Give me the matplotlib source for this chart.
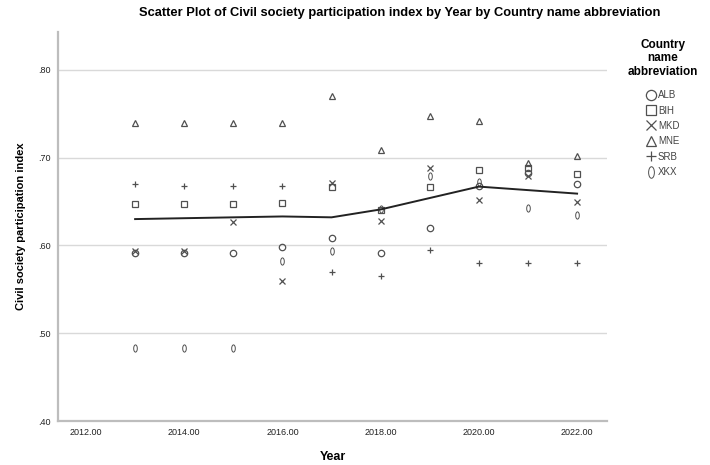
import matplotlib
matplotlib.use("Agg")
import matplotlib.pyplot as plt
from matplotlib.path import Path
from matplotlib.transforms import Affine2D

plt.rcParams['font.family'] = ['Liberation Sans', 'DejaVu Sans']

years = [2013, 2014, 2015, 2016, 2017, 2018, 2019, 2020, 2021, 2022]
alb = [0.591, 0.591, 0.591, 0.598, 0.609, 0.591, 0.620, 0.668, 0.682, 0.670]
bih = [0.647, 0.647, 0.647, 0.648, 0.667, 0.640, 0.667, 0.686, 0.688, 0.681]
mkd = [0.594, 0.594, 0.627, 0.560, 0.671, 0.628, 0.688, 0.652, 0.679, 0.649]
mne = [0.739, 0.739, 0.739, 0.739, 0.770, 0.709, 0.747, 0.742, 0.694, 0.702]
srb = [0.670, 0.668, 0.668, 0.668, 0.570, 0.565, 0.595, 0.580, 0.580, 0.580]
xkx = [0.483, 0.483, 0.483, 0.582, 0.594, 0.641, 0.679, 0.672, 0.643, 0.635]
fit_line = [0.630, 0.631, 0.632, 0.633, 0.632, 0.641, 0.654, 0.667, 0.663, 0.659]

countries = ["ALB", "BIH", "MKD", "MNE", "SRB", "XKX"]
series = [alb, bih, mkd, mne, srb, xkx]

# narrow oval for XKX, like the SPSS "0" marker
oval = Path.unit_circle().transformed(Affine2D().scale(0.5, 1.0))
markers = ["o", "s", "x", "^", "+", oval]

ink = "#505050"
fig = plt.figure(figsize=(7.1, 4.65), dpi=100)
ax = fig.add_axes([0.0817, 0.0946, 0.7733, 0.8364])

for name, vals, m in zip(countries, series, markers):
    filled = m in ("x", "+")
    ax.plot(years, vals, linestyle="none", marker=m,
            markersize=5.2 if m is oval else 4.6,
            markerfacecolor=ink if filled else "none", markeredgecolor=ink,
            markeredgewidth=0.7 if m is oval else 0.9, label=name)

ax.plot(years, fit_line, color="#222222", linewidth=1.4, zorder=5)

ax.set_xlim(2011.43, 2022.61)
ax.set_ylim(0.40, 0.843)
ax.set_xticks([2012, 2014, 2016, 2018, 2020, 2022])
ax.set_xticklabels(["2012.00", "2014.00", "2016.00", "2018.00", "2020.00", "2022.00"])
ax.set_yticks([0.40, 0.50, 0.60, 0.70, 0.80])
ax.set_yticklabels([".40", ".50", ".60", ".70", ".80"])
ax.tick_params(length=0, labelsize=6.5, colors="#222222", pad=5)
ax.grid(axis="y", color="#d9d9d9", linewidth=1.0)
ax.set_axisbelow(True)
for s in ["top", "right"]:
    ax.spines[s].set_visible(False)
for s in ["left", "bottom"]:
    ax.spines[s].set_color("#bdbdbd")
    ax.spines[s].set_linewidth(1.6)

ax.set_xlabel("Year", fontsize=9, fontweight="bold", labelpad=10)
ax.set_ylabel("Civil society participation index", fontsize=8, fontweight="bold", labelpad=9)
fig.suptitle("Scatter Plot of Civil society participation index by Year by Country name abbreviation",
             x=0.563, y=0.985, fontsize=9.3, fontweight="bold")

leg = fig.legend(loc="upper left", bbox_to_anchor=(0.872, 0.935), frameon=False,
                 title="Country\nname\nabbreviation", fontsize=7, labelspacing=0.55,
                 handlelength=0.9, handletextpad=0.25, markerscale=1.6,
                 alignment="center",
                 title_fontproperties={"weight": "bold", "size": 8.5})
leg.get_title().set_multialignment("center")
leg.get_title().set_linespacing(1.15)
leg._legend_box.sep = 9
for t in leg.get_texts():
    t.set_color("#444444")

fig.savefig("out.png", dpi=100)
